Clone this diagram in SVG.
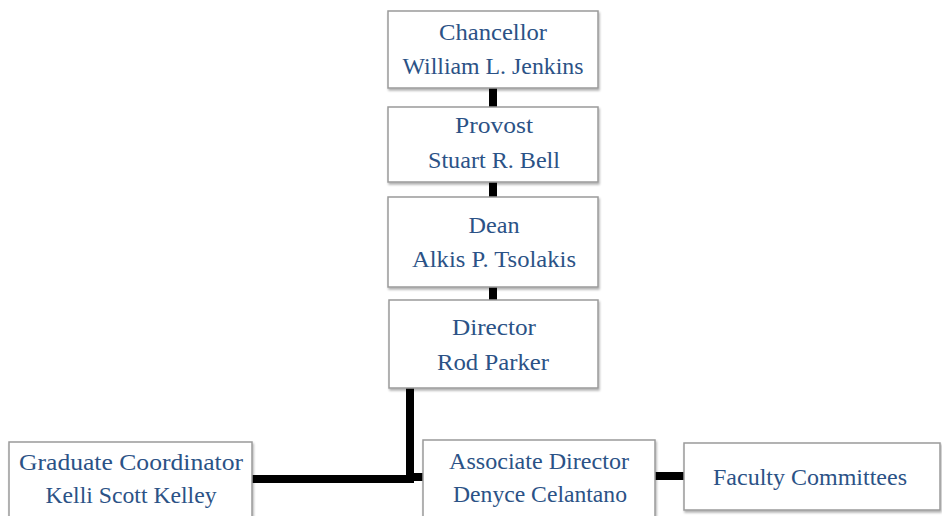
<svg xmlns="http://www.w3.org/2000/svg" width="942" height="516" viewBox="0 0 942 516">
<defs>
<filter id="sh" x="-5%" y="-5%" width="115%" height="120%">
<feDropShadow dx="1" dy="2" stdDeviation="1" flood-color="#000" flood-opacity="0.3"/>
</filter>
</defs>
<style>
.box{fill:#fff;stroke:#9a9a9a;stroke-width:1.5;filter:url(#sh)}
.t{font-family:"Liberation Serif","DejaVu Serif",serif;font-size:24px;fill:#2b5286;text-anchor:middle}
.c{stroke:#000;stroke-width:8;fill:none}
</style>
<rect width="942" height="516" fill="#fff"/>
<g id="connectors">
<line class="c" x1="493" y1="88" x2="493" y2="107"/>
<line class="c" x1="493" y1="182" x2="493" y2="197"/>
<line class="c" x1="493" y1="287" x2="493" y2="300"/>
<line class="c" x1="410" y1="388" x2="410" y2="483"/>
<line class="c" x1="252" y1="479" x2="414" y2="479"/>
<line class="c" x1="406" y1="477" x2="423" y2="477"/>
<line class="c" x1="655" y1="476" x2="684" y2="476"/>
</g>
<g id="chancellor">
<rect class="box" x="388" y="11" width="210" height="77"/>
<text class="t" x="493" y="40" textLength="108" lengthAdjust="spacingAndGlyphs">Chancellor</text>
<text class="t" x="493" y="74" textLength="181" lengthAdjust="spacingAndGlyphs">William L. Jenkins</text>
</g>
<g id="provost">
<rect class="box" x="388" y="107" width="210" height="75"/>
<text class="t" x="494" y="133" textLength="78" lengthAdjust="spacingAndGlyphs">Provost</text>
<text class="t" x="494" y="168" textLength="132" lengthAdjust="spacingAndGlyphs">Stuart R. Bell</text>
</g>
<g id="dean">
<rect class="box" x="388" y="197" width="210" height="90"/>
<text class="t" x="494" y="233" textLength="51" lengthAdjust="spacingAndGlyphs">Dean</text>
<text class="t" x="494" y="267" textLength="164" lengthAdjust="spacingAndGlyphs">Alkis P. Tsolakis</text>
</g>
<g id="director">
<rect class="box" x="389" y="300" width="209" height="88"/>
<text class="t" x="494" y="335" textLength="84" lengthAdjust="spacingAndGlyphs">Director</text>
<text class="t" x="493" y="370" textLength="112" lengthAdjust="spacingAndGlyphs">Rod Parker</text>
</g>
<g id="graduate-coordinator">
<rect class="box" x="9" y="442" width="243" height="85"/>
<text class="t" x="131" y="470" textLength="224" lengthAdjust="spacingAndGlyphs">Graduate Coordinator</text>
<text class="t" x="131" y="503" textLength="171" lengthAdjust="spacingAndGlyphs">Kelli Scott Kelley</text>
</g>
<g id="associate-director">
<rect class="box" x="423" y="440" width="232" height="85"/>
<text class="t" x="539" y="469" textLength="180" lengthAdjust="spacingAndGlyphs">Associate Director</text>
<text class="t" x="540" y="502" textLength="174" lengthAdjust="spacingAndGlyphs">Denyce Celantano</text>
</g>
<g id="faculty-committees">
<rect class="box" x="684" y="443" width="256" height="67"/>
<text class="t" x="810" y="485" textLength="194" lengthAdjust="spacingAndGlyphs">Faculty Committees</text>
</g>
</svg>
